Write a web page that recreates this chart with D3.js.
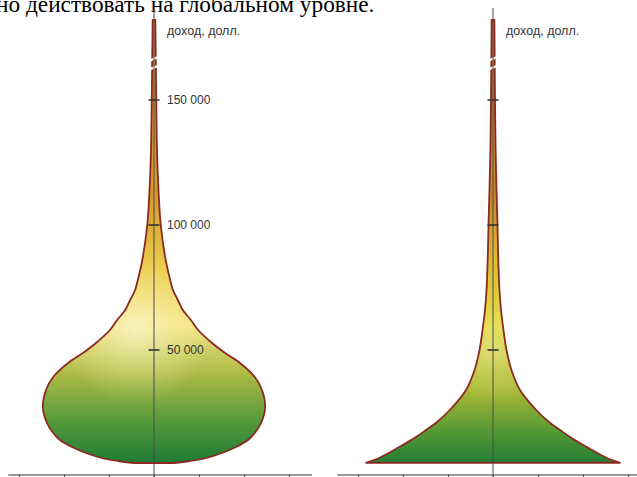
<!DOCTYPE html>
<html>
<head>
<meta charset="utf-8">
<script src="https://cdn.jsdelivr.net/npm/d3@7"></script>
<style>
    html, body { margin: 0; padding: 0; background: #fff; overflow: hidden; }
    svg { display: block; }
</style>
</head>
<body>
<script>
// income levels (USD) and half-width of each distribution, in bottom-axis tick units
const leftIncome = [4800, 5600, 6800, 8800, 11200, 14000, 16800, 20800, 27200, 34000, 39200, 44800,
    48800, 52800, 58000, 62000, 66000, 70000, 74000, 78000, 86000, 100000, 114000, 130000, 150000, 182000];
const leftWidth = [0.44, 0.80, 1.16, 1.51, 1.82, 2.09, 2.24, 2.38, 2.47, 2.40, 2.24, 1.91,
    1.58, 1.29, 0.98, 0.82, 0.64, 0.53, 0.42, 0.36, 0.26, 0.15, 0.10, 0.067, 0.05, 0.03];

const rightIncome = [4900, 5600, 6800, 8400, 10000, 12800, 15200, 18000, 20800, 26000, 34000, 42000,
    50000, 58000, 66000, 74000, 86000, 100000, 114000, 130000, 150000, 182000];
const rightWidth = [2.82, 2.71, 2.53, 2.36, 2.20, 1.93, 1.71, 1.49, 1.27, 0.96, 0.60, 0.41,
    0.30, 0.233, 0.178, 0.144, 0.118, 0.10, 0.078, 0.058, 0.044, 0.031];

const yTicks = [50000, 100000, 150000];
const yTickLabels = ['50 000', '100 000', '150 000'];
const xTicks = [-3, -2, -1, 0, 1, 2, 3];
const breakIncomes = [166500, 163000];

const axisTitle = 'доход, долл.';
const headline = 'но действовать на глобальном уровне.';

const width = 637;
const height = 477;

const svg = d3.select('body')
    .append('svg')
    .attr('width', width)
    .attr('height', height);

const defs = svg.append('defs');

const yScale = d3.scaleLinear()
    .domain([0, 50000])
    .range([475, 350]);

// headline of the page above, cut by the top edge
svg.append('text')
    .attr('x', -4)
    .attr('y', 11.5)
    .style('font-family', '"Liberation Serif", "Times New Roman", serif')
    .style('font-size', '23.3px')
    .attr('fill', '#000')
    .text(headline);

function addGradients(id, stops, glow) {
    const lin = defs.append('linearGradient')
        .attr('id', id + '-base')
        .attr('gradientUnits', 'userSpaceOnUse')
        .attr('x1', 0).attr('x2', 0)
        .attr('y1', yScale(110000)).attr('y2', yScale(4000));
    stops.forEach(s => lin.append('stop')
        .attr('offset', s[0])
        .attr('stop-color', s[1]));

    const rad = defs.append('radialGradient')
        .attr('id', id + '-glow')
        .attr('gradientUnits', 'userSpaceOnUse')
        .attr('cx', glow.cx).attr('cy', glow.cy).attr('r', glow.r);
    rad.append('stop').attr('offset', 0).attr('stop-color', '#fffbe2').attr('stop-opacity', glow.o);
    rad.append('stop').attr('offset', 0.55).attr('stop-color', '#fff6c0').attr('stop-opacity', glow.o * 0.45);
    rad.append('stop').attr('offset', 1).attr('stop-color', '#fff6c0').attr('stop-opacity', 0);
}

function plotDistribution(cfg) {
    const xScale = d3.scaleLinear()
        .domain([0, 1])
        .range([cfg.center, cfg.center + 45]);

    const data = cfg.income.map((v, i) => ({ v: v, w: cfg.width[i] }));

    const area = d3.area()
        .y(d => yScale(d.v))
        .x0(d => xScale(-d.w))
        .x1(d => xScale(d.w))
        .curve(d3.curveCatmullRom.alpha(0.5));

    const g = svg.append('g').classed('distribution', true);

    addGradients(cfg.id, cfg.stops, cfg.glow(xScale));

    g.append('path')
        .datum(data)
        .attr('d', area)
        .attr('fill', `url(#${cfg.id}-base)`);

    g.append('path')
        .datum(data)
        .attr('d', area)
        .attr('fill', `url(#${cfg.id}-glow)`);

    g.append('path')
        .datum(data)
        .attr('d', area)
        .attr('fill', 'none')
        .attr('stroke', '#8a2a20')
        .attr('stroke-width', 1.8)
        .attr('stroke-linejoin', 'round');

    // break marks on the thin top of the spike
    g.selectAll('.break')
        .data(breakIncomes)
        .enter()
        .append('line')
        .classed('break', true)
        .attr('x1', xScale(-0.13))
        .attr('x2', xScale(0.13))
        .attr('y1', d => yScale(d) + 2.5)
        .attr('y2', d => yScale(d) - 2.5)
        .attr('stroke', '#fff')
        .attr('stroke-width', 2.4);

    // bottom axis, no labels
    const xAxis = d3.axisBottom(xScale.copy().domain(cfg.xDomain)
            .range([xScale(cfg.xDomain[0]), xScale(cfg.xDomain[1])]))
        .tickValues(xTicks)
        .tickSize(4)
        .tickSizeOuter(0)
        .tickFormat('');

    const ax = g.append('g')
        .classed('x-axis', true)
        .attr('transform', `translate(0, ${yScale(0) - 0.5})`)
        .call(xAxis);
    ax.select('.domain').attr('stroke', '#333');
    ax.selectAll('.tick line').attr('stroke', '#444');

    // vertical income axis
    g.append('line')
        .attr('x1', xScale(0)).attr('x2', xScale(0))
        .attr('y1', 8).attr('y2', height)
        .attr('stroke', '#4a4a4a')
        .attr('stroke-width', 1);

    g.selectAll('.y-tick')
        .data(yTicks)
        .enter()
        .append('line')
        .classed('y-tick', true)
        .attr('x1', xScale(0) - 5.5)
        .attr('x2', xScale(0) + 5.5)
        .attr('y1', d => yScale(d))
        .attr('y2', d => yScale(d))
        .attr('stroke', '#333')
        .attr('stroke-width', 1.6);

    if (cfg.labels) {
        g.selectAll('.y-label')
            .data(yTicks)
            .enter()
            .append('text')
            .classed('y-label', true)
            .attr('x', xScale(0) + 13)
            .attr('y', d => yScale(d))
            .attr('dy', '0.36em')
            .style('font-family', '"Liberation Sans", Arial, sans-serif')
            .style('font-size', '12px')
            .attr('fill', '#333')
            .text((d, i) => yTickLabels[i]);
    }

    g.append('text')
        .attr('x', xScale(0) + 13)
        .attr('y', 35)
        .style('font-family', '"Liberation Sans", Arial, sans-serif')
        .style('font-size', '12.5px')
        .attr('fill', '#333')
        .text(axisTitle);
}

plotDistribution({
    id: 'left',
    center: 154,
    income: leftIncome,
    width: leftWidth,
    xDomain: [-3.25, 3.5],
    labels: true,
    stops: [
        [0.00, '#d59a2e'],
        [0.26, '#ebcd4c'],
        [0.47, '#f4e688'],
        [0.66, '#abba44'],
        [0.84, '#53983a'],
        [1.00, '#1b7a36']
    ],
    glow: x => ({ cx: x(-0.4), cy: yScale(58000), r: 75, o: 0.6 })
});

plotDistribution({
    id: 'right',
    center: 493,
    income: rightIncome,
    width: rightWidth,
    xDomain: [-3.47, 3.3],
    labels: false,
    stops: [
        [0.00, '#c98a2c'],
        [0.22, '#dcbc36'],
        [0.48, '#e0d93e'],
        [0.72, '#a6b834'],
        [0.87, '#579934'],
        [1.00, '#1f7c34']
    ],
    glow: x => ({ cx: x(0), cy: yScale(50000), r: 55, o: 0.35 })
});
</script>
</body>
</html>
